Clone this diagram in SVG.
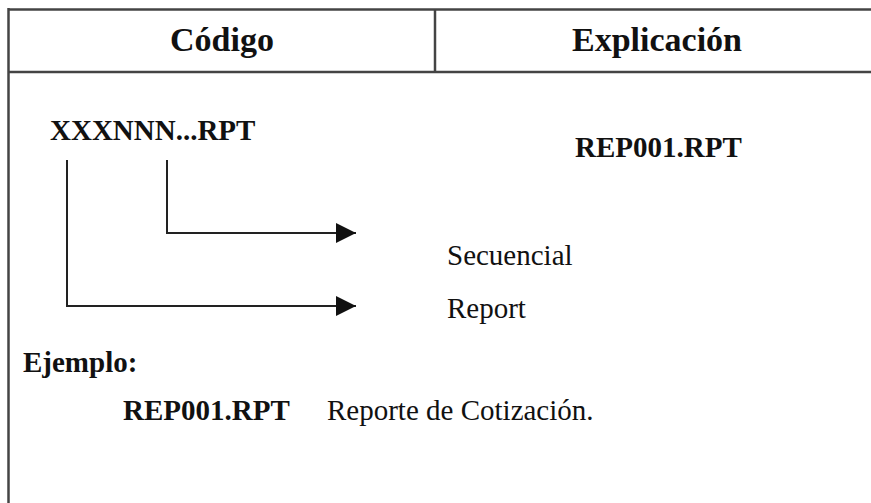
<svg xmlns="http://www.w3.org/2000/svg" width="871" height="503" viewBox="0 0 871 503">
<defs>
<style>
.b{font-family:"Liberation Serif","Times New Roman",serif;font-weight:bold;fill:#111}
.r{font-family:"Liberation Serif","Times New Roman",serif;fill:#111}
.frame{stroke:#444;stroke-width:2.5;fill:none}
.conn{stroke:#222;stroke-width:2;fill:none}
</style>
<marker id="ah" viewBox="0 0 20 20" refX="20" refY="10" markerWidth="20" markerHeight="20" markerUnits="userSpaceOnUse" orient="auto">
<path d="M0,0 L20,10 L0,20 Z" fill="#111"/>
</marker>
</defs>
<rect width="871" height="503" fill="#fff"/>
<g id="table">
<line class="frame" x1="8" y1="9.5" x2="871" y2="9.5"/>
<line class="frame" x1="8" y1="72" x2="871" y2="72"/>
<line class="frame" x1="8.5" y1="8" x2="8.5" y2="503" stroke-width="2"/>
<line class="frame" x1="435" y1="9" x2="435" y2="72" stroke-width="2"/>
</g>
<g id="header-codigo"><text class="b" x="222" y="51" font-size="34" text-anchor="middle">Código</text></g>
<g id="header-explicacion"><text class="b" x="657" y="51" font-size="34" text-anchor="middle">Explicación</text></g>
<g id="pattern"><text class="b" x="50" y="140" font-size="29">XXXNNN...RPT</text></g>
<g id="example-name"><text class="b" x="575" y="157" font-size="29">REP001.RPT</text></g>
<g id="secuencial"><text class="r" x="447" y="265" font-size="29">Secuencial</text></g>
<g id="report"><text class="r" x="447" y="318" font-size="29">Report</text></g>
<g id="connectors">
<polyline class="conn" points="167,160 167,233 356,233" marker-end="url(#ah)"/>
<polyline class="conn" points="67,160 67,306 356,306" marker-end="url(#ah)"/>
</g>
<g id="ejemplo"><text class="b" x="23" y="372" font-size="29">Ejemplo:</text></g>
<g id="ejemplo-line">
<text class="b" x="123" y="420" font-size="29">REP001.RPT</text>
<text class="r" x="327" y="420" font-size="29">Reporte de Cotización.</text>
</g>
</svg>
